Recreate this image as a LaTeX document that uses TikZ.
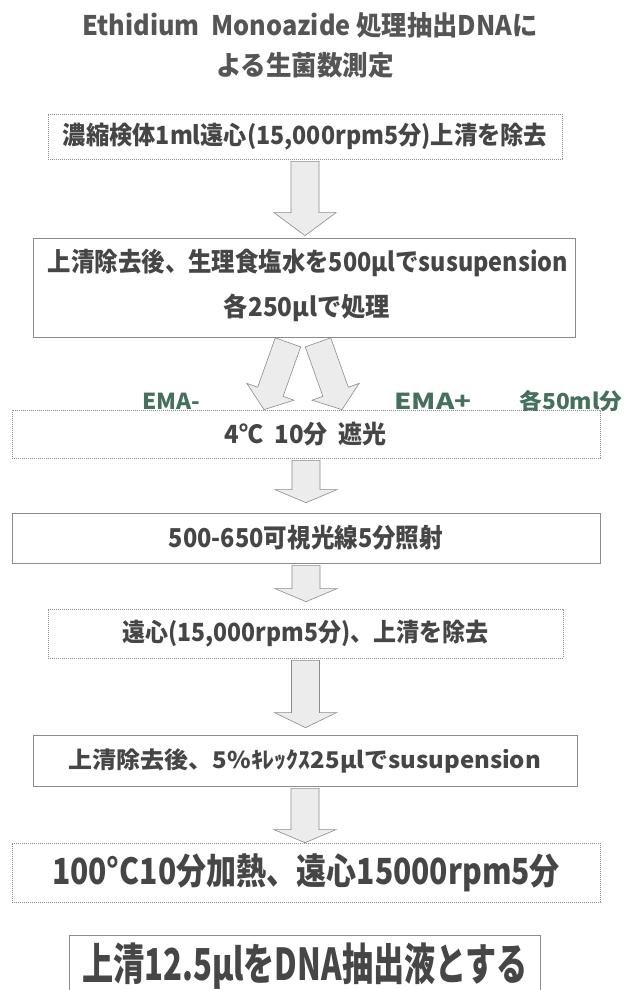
\documentclass[tikz,border=0pt]{standalone}
\usepackage{graphicx}
\usepackage{fontspec}
\setmainfont{Noto Sans CJK JP}
\usetikzlibrary{calc}
\definecolor{txt}{HTML}{464646}
\definecolor{ttl}{HTML}{555555}
\definecolor{edge}{HTML}{8C8C8C}
\definecolor{afill}{HTML}{ECECEC}
\definecolor{ema}{HTML}{44705C}
\newcommand\fitw[3]{\resizebox{#1pt}{\height}{\fontsize{#2pt}{#2pt}\selectfont #3}}
\tikzset{
  box/.style={draw=edge, line width=0.7pt, inner sep=0pt, text=txt, font=\bfseries},
  dotbox/.style={box, dash pattern=on 0.8pt off 1.2pt},
  blockarr/.style={draw=edge, fill=afill, line width=0.6pt, line join=miter},
  lbl/.style={inner sep=0pt, text=ema, font=\bfseries},
  ttlstyle/.style={inner sep=0pt, text=ttl, font=\bfseries},
  steptext/.style={inner sep=0pt, text=txt, font=\bfseries},
}
% from, to, head length, end gap
\newcommand\downarr[4]{%
  \draw[blockarr] let \p1=($(#1.south)+(0,2)$), \p2=($(#2.north)+(0,-#4)$) in
  (\x1-14pt,\y1) -- (\x1+14pt,\y1) -- (\x1+14pt,\y2+#3pt) -- (\x1+31pt,\y2+#3pt)
  -- (\x1,\y2) -- (\x1-31pt,\y2+#3pt) -- (\x1-14pt,\y2+#3pt) -- cycle;}
% start, tip, prefix
\newcommand\slantarr[3]{%
  \coordinate (#3hb) at ($(#2)!19pt!(#1)$);
  \draw[blockarr] ($(#1)!13.5pt!90:(#2)$) -- ($(#3hb)!13.5pt!90:(#2)$)
  -- ($(#3hb)!25pt!90:(#2)$) -- (#2) -- ($(#3hb)!25pt!-90:(#2)$)
  -- ($(#3hb)!13.5pt!-90:(#2)$) -- ($(#1)!13.5pt!-90:(#2)$) -- cycle;}
\begin{document}
\begin{tikzpicture}[x=1pt,y=-1pt]
\useasboundingbox (0,0) rectangle (625,990);
\fill[white] (0,0) rectangle (625,990);
% title
\node[ttlstyle] (t1) at (310,25) {\fitw{455}{27}{Ethidium\ \ Monoazide 処理抽出DNAに}};
\node[ttlstyle] (t2) at (305,65) {\fitw{178}{27}{よる生菌数測定}};
% boxes
\node[dotbox, minimum width=514pt, minimum height=45pt] (b1) at (305,136.5)
  {\fitw{484}{25}{濃縮検体1ml遠心(15,000rpm5分)上清を除去}};
\node[box, minimum width=542pt, minimum height=99pt] (b2) at (304,287.5) {};
\node[steptext] (b2a) at (308,263)
  {\fitw{520}{26}{上清除去後、生理食塩水を500μlでsusupension}};
\node[steptext] (b2b) at (307,308)
  {\fitw{166}{26}{各250μlで処理}};
\node[dotbox, minimum width=588pt, minimum height=48pt] (b3) at (306,434)
  {\fitw{162}{25}{4℃\ \ 10分\ \ 遮光}};
\node[box, minimum width=588pt, minimum height=50pt] (b4) at (306,538)
  {\fitw{274}{26}{500-650可視光線5分照射}};
\node[dotbox, minimum width=515pt, minimum height=49pt] (b5) at (305.5,633.5)
  {\fitw{366}{25}{遠心(15,000rpm5分)、上清を除去}};
\node[box, minimum width=544pt, minimum height=51pt] (b6) at (305,760.5)
  {\fitw{472}{23}{上清除去後、5\%ｷﾚｯｸｽ25μlでsusupension}};
\node[dotbox, minimum width=588pt, minimum height=59pt] (b7) at (306,872.5)
  {\fitw{508}{36}{100°C10分加熱、遠心15000rpm5分}};
\node[box, minimum width=471pt, minimum height=62pt] (b8) at (305,966)
  {\fitw{446}{44}{上清12.5μlをDNA抽出液とする}};
% labels
\node[lbl] (l1) at (171,401) {\fitw{58}{22}{EMA-}};
\node[lbl] (l2) at (433,401) {\fitw{77}{22}{EMA+}};
\node[lbl] (l3) at (571,401) {\fitw{103}{22}{各50ml分}};
% arrows
\downarr{b1}{b2}{23}{2}
\coordinate (sL) at ($(b2.south)+(-16,5)$);
\coordinate (tL) at ($(b3.north)+(-42,0)$);
\coordinate (sR) at ($(b2.south)+(14,5)$);
\coordinate (tR) at ($(b3.north)+(36,0)$);
\slantarr{sL}{tL}{aL}
\slantarr{sR}{tR}{aR}
\downarr{b3}{b4}{13}{10}
\downarr{b4}{b5}{13}{7}
\downarr{b5}{b6}{15}{7}
\downarr{b6}{b7}{13}{0}
\end{tikzpicture}
\end{document}
